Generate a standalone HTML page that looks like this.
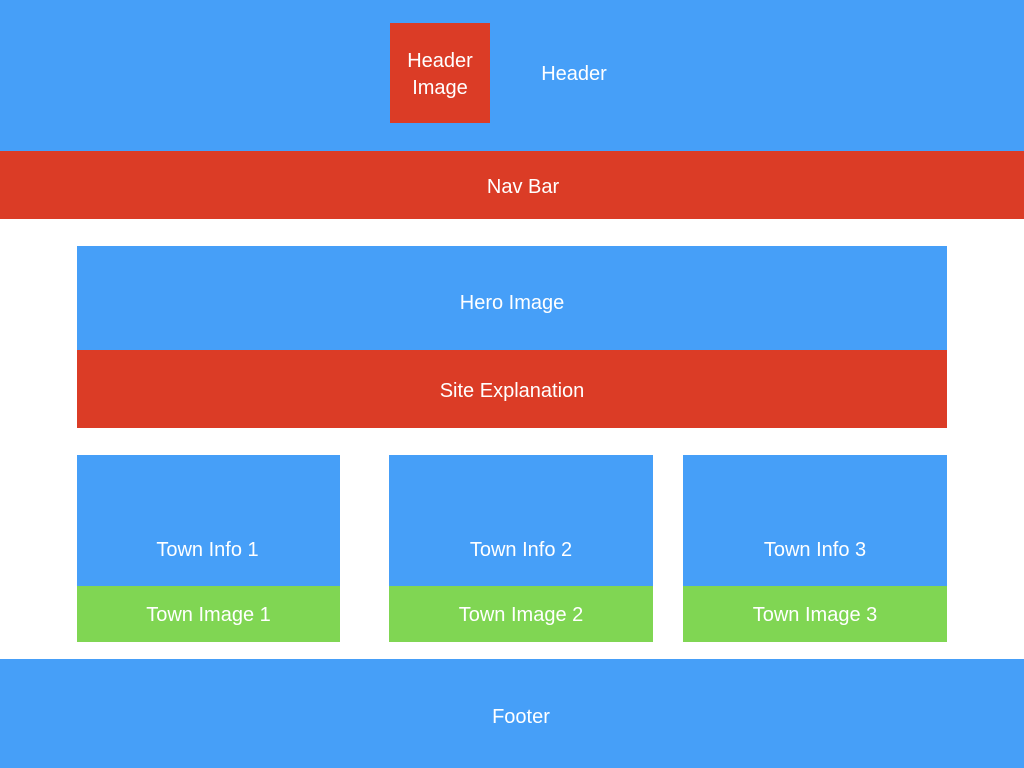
<!DOCTYPE html>
<html><head><style>
body{margin:0;width:1024px;height:768px;position:relative;background:#fff;font-family:"Liberation Sans",sans-serif;overflow:hidden}
div{position:absolute;color:#fff;font-size:20px;display:flex;align-items:center;justify-content:center;text-align:center;line-height:27px;box-sizing:border-box}
.b{background:#469ff8}.r{background:#db3c26}.g{background:#80d653}
</style></head><body>
<div class="b" style="left:0;top:0;width:1024px;height:151px"></div>
<div class="r" style="left:390px;top:23px;width:100px;height:100px;padding-top:4px">Header<br>Image</div>
<div style="left:520px;top:61px;width:108px;height:27px">Header</div>
<div class="r" style="left:0;top:151px;width:1024px;height:68px;padding-left:22px;padding-top:4px">Nav Bar</div>
<div class="b" style="left:77px;top:246px;width:870px;height:104px;padding-top:10px">Hero Image</div>
<div class="r" style="left:77px;top:350px;width:870px;height:78px;padding-top:4px">Site Explanation</div>
<div class="b" style="left:77px;top:455px;width:263px;height:131px;padding-top:60px;padding-right:2px">Town Info 1</div>
<div class="g" style="left:77px;top:586px;width:263px;height:56px;padding-top:2px">Town Image 1</div>
<div class="b" style="left:389px;top:455px;width:264px;height:131px;padding-top:60px">Town Info 2</div>
<div class="g" style="left:389px;top:586px;width:264px;height:56px;padding-top:2px">Town Image 2</div>
<div class="b" style="left:683px;top:455px;width:264px;height:131px;padding-top:60px">Town Info 3</div>
<div class="g" style="left:683px;top:586px;width:264px;height:56px;padding-top:2px">Town Image 3</div>
<div class="b" style="left:0;top:659px;width:1024px;height:109px;padding-left:18px;padding-top:8px">Footer</div>
</body></html>
